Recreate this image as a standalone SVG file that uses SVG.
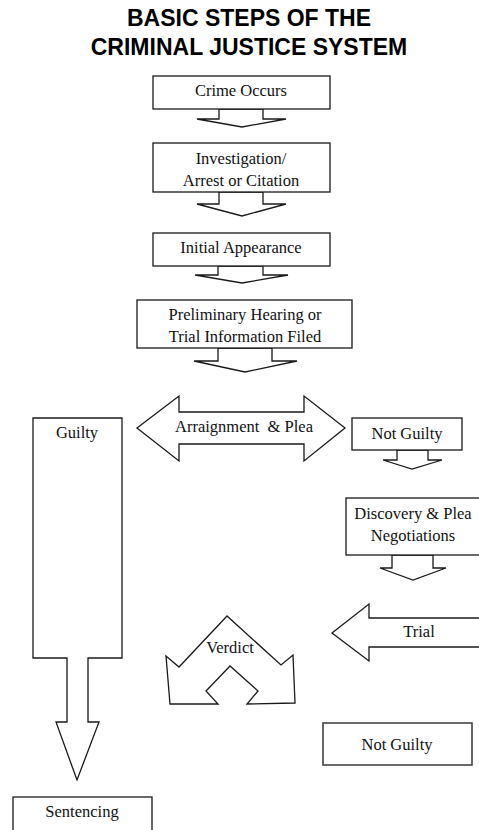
<svg xmlns="http://www.w3.org/2000/svg" width="479" height="830" viewBox="0 0 479 830">
<style>
.s{fill:#fff;stroke:#1a1a1a;stroke-width:1.3;stroke-linejoin:miter}
.t{font-family:"Liberation Serif","Times New Roman",serif;font-size:16.5px;fill:#111;text-anchor:middle}
.h{font-family:"Liberation Sans",Arial,sans-serif;font-size:23px;font-weight:bold;fill:#000;text-anchor:middle}
</style>
<rect width="479" height="830" fill="#fff"/>
<g id="title">
<text class="h" x="249" y="26">BASIC STEPS OF THE</text>
<text class="h" x="249" y="55">CRIMINAL JUSTICE SYSTEM</text>
</g>
<g id="connectors">
<polygon class="s" points="219,109 219,119 197,119 242,127 286,119 263,119 263,109"/>
<polygon class="s" points="219,192 219,204 197,204 242,216 286,204 263,204 263,192"/>
<polygon class="s" points="218,266 218,275 195,275 242,283 288,275 263,275 263,266"/>
<polygon class="s" points="218,348 218,361 194,361 245,372 297,361 272,361 272,348"/>
<polygon class="s" points="397,450 397,460 383,460 412,469 442,460 428,460 428,450"/>
<polygon class="s" points="392,555 392,568 380,568 413,580 446,568 433,568 433,555"/>
</g>
<g id="crime">
<rect class="s" x="153" y="76" width="177" height="33"/>
<text class="t" x="241" y="96">Crime Occurs</text>
</g>
<g id="investigation">
<rect class="s" x="153" y="143" width="177" height="49"/>
<text class="t" x="241" y="164">Investigation/</text>
<text class="t" x="241" y="186">Arrest or Citation</text>
</g>
<g id="initial">
<rect class="s" x="153" y="233" width="177" height="33"/>
<text class="t" x="241" y="253">Initial Appearance</text>
</g>
<g id="preliminary">
<rect class="s" x="137" y="300" width="215" height="48"/>
<text class="t" x="245" y="320">Preliminary Hearing or</text>
<text class="t" x="245" y="342">Trial Information Filed</text>
</g>
<g id="arraignment">
<polygon class="s" points="137,428 179,396 179,412 304,412 304,396 345,428 304,461 304,444 179,444 179,461"/>
<text class="t" x="244" y="432" xml:space="preserve" style="white-space:pre">Arraignment  &amp; Plea</text>
</g>
<g id="notguilty1">
<rect class="s" x="352" y="418" width="110" height="32"/>
<text class="t" x="407" y="439">Not Guilty</text>
</g>
<g id="discovery">
<rect class="s" x="346" y="498" width="140" height="57"/>
<text class="t" x="413" y="519">Discovery &amp; Plea</text>
<text class="t" x="413" y="541">Negotiations</text>
</g>
<g id="trial">
<polygon class="s" points="485,618 369,618 369,604 332,633 369,661 369,647 485,647"/>
<text class="t" x="419" y="637">Trial</text>
</g>
<g id="verdict">
<polygon class="s" points="227,616 179,667 166,656 170,704 218,704 206,691 230,666 258,691 247,704 295,703 293,655 281,665"/>
<text class="t" x="230" y="653">Verdict</text>
</g>
<g id="guilty">
<polygon class="s" points="33,418 122,418 122,658 88,658 88,722 99,722 77,780 56,722 67,722 67,658 33,658"/>
<text class="t" x="77" y="438">Guilty</text>
</g>
<g id="notguilty2">
<rect class="s" x="323" y="723" width="149" height="42" style="stroke:#444;stroke-width:1.6"/>
<text class="t" x="397" y="750">Not Guilty</text>
</g>
<g id="sentencing">
<rect class="s" x="13" y="797" width="139" height="40"/>
<text class="t" x="82" y="817">Sentencing</text>
</g>
</svg>
